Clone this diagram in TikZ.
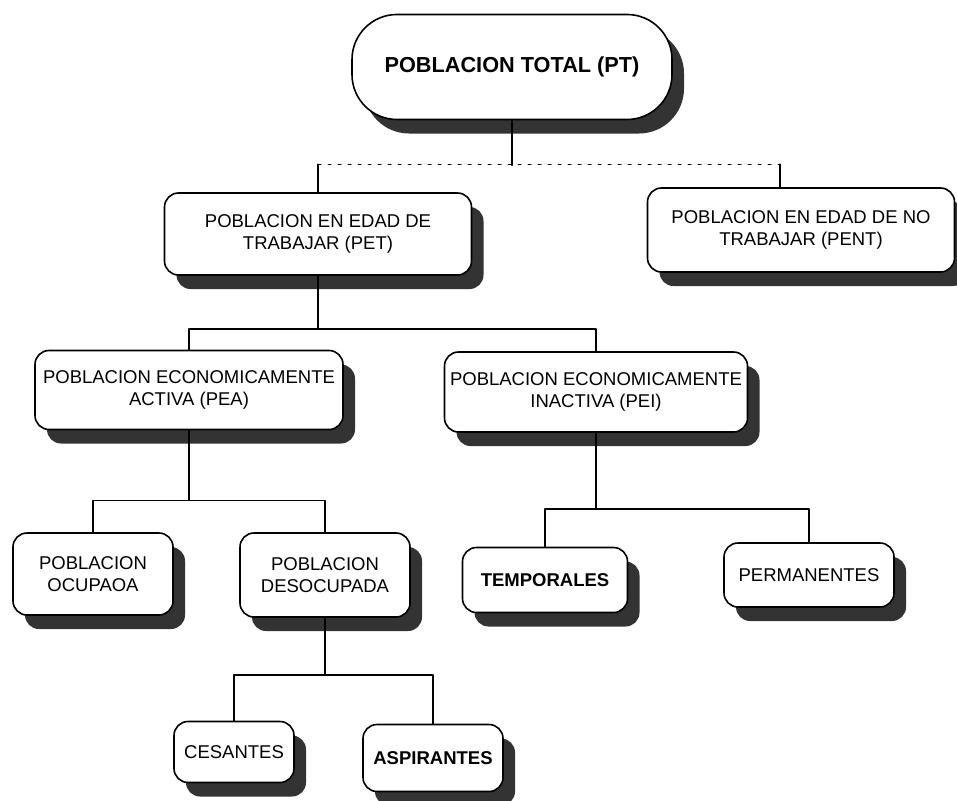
\documentclass[tikz,border=0pt]{standalone}
\usepackage{fontspec}
\setmainfont{Liberation Sans}
\usetikzlibrary{shadows,calc}
\tikzset{
  caja/.style={draw, line width=1.6pt, rounded corners=14pt, fill=white, align=center, inner sep=0pt,
    drop shadow={fill=black!80, opacity=1, shadow xshift=12pt, shadow yshift=-14pt},
    font=\fontsize{18.5}{22}\selectfont},
  rama/.style={line width=1.6pt},
  tenue/.style={line width=1pt, dash pattern=on 3pt off 7pt},
}
\begin{document}
\begin{tikzpicture}[line cap=round,line join=round,x=1pt,y=-1pt]
		\useasboundingbox (0,0) rectangle (957,800);
		\node[caja, rounded corners=45pt, minimum width=320pt, minimum height=105pt, font=\fontsize{21.7}{26}\selectfont\bfseries] (pt) at (512,67) {POBLACION TOTAL (PT)};
		\node[caja, minimum width=307pt, minimum height=82pt] (pet) at (318,234) {POBLACION EN EDAD DE\\TRABAJAR (PET)};
		\node[caja, minimum width=307pt, minimum height=84pt] (pent) at (801,230) {POBLACION EN EDAD DE NO\\TRABAJAR (PENT)};
		\node[caja, minimum width=308pt, minimum height=79pt] (pea) at (189,390) {POBLACION ECONOMICAMENTE\\ACTIVA (PEA)};
		\node[caja, minimum width=303pt, minimum height=80pt] (pei) at (596,392) {POBLACION ECONOMICAMENTE\\INACTIVA (PEI)};
		\node[caja, minimum width=160pt, minimum height=82pt] (ocu) at (93,574) {POBLACION\\OCUPAOA};
		\node[caja, minimum width=170pt, minimum height=84pt] (deso) at (325,575) {POBLACION\\DESOCUPADA};
		\node[caja, minimum width=165pt, minimum height=65pt, font=\fontsize{18.5}{22}\selectfont\bfseries] (temp) at (545,580) {TEMPORALES};
		\node[caja, minimum width=170pt, minimum height=64pt] (perm) at (809,575) {PERMANENTES};
		\node[caja, minimum width=120pt, minimum height=61pt] (ces) at (234,752) {CESANTES};
		\node[caja, minimum width=140pt, minimum height=67pt, font=\fontsize{18.5}{22}\selectfont\bfseries] (asp) at (433,758) {ASPIRANTES};
		\draw [rama] (pt.south) -- ++(0,45) coordinate (c0);
		\draw [rama] (pet.north) -- ++(0,-28) coordinate (c1);
		\draw [rama] ($(pent.north)+(-21,0)$) -- ++(0,-23) coordinate (c2);
		\draw [tenue] (c1) -- (c2);
		\draw [rama] (pet.south) -- ++(0,53) coordinate (c3);
		\draw [rama] (pea.north) |- (c3) -| (pei.north);
		\draw [rama] (pea.south) -- ++(0,70) coordinate (c4);
		\draw [rama] (ocu.north) |- (c4) -| (deso.north);
		\draw [rama] (pei.south) -- ++(0,76) coordinate (c5);
		\draw [rama] (temp.north) |- (c5) -| (perm.north);
		\draw [rama] (deso.south) -- ++(0,57) coordinate (c6);
		\draw [rama] (ces.north) |- (c6) -| (asp.north);
\end{tikzpicture}
\end{document}
